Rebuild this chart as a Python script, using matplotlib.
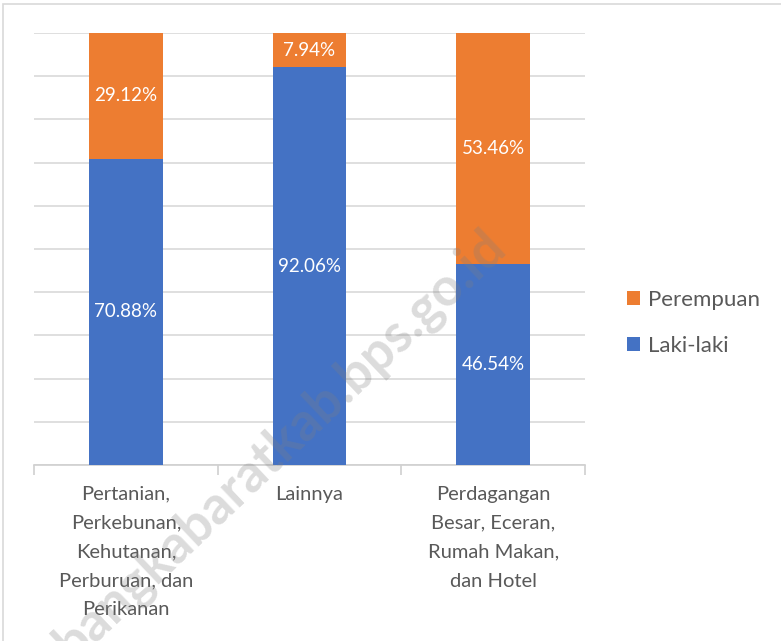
import matplotlib
matplotlib.use("Agg")
import matplotlib.pyplot as plt
from matplotlib.patches import Rectangle, Patch
import numpy as np

categories = ["Pertanian,\nPerkebunan,\nKehutanan,\nPerburuan, dan\nPerikanan",
              "Lainnya",
              "Perdagangan\nBesar, Eceran,\nRumah Makan,\ndan Hotel"]
laki = [70.88, 92.06, 46.54]
perempuan = [29.12, 7.94, 53.46]

BLUE = "#4472C4"
ORANGE = "#ED7D31"
GREY_TXT = "#595959"
FONT = "Lato"

W, H = 781, 641
fig = plt.figure(figsize=(W / 100, H / 100), dpi=100)

# outer frame of the chart object
fig.patches.append(Rectangle((3 / W, -0.1), 1.2, (H - 4) / H + 0.1, transform=fig.transFigure,
                             fill=False, edgecolor="#d9d9d9", linewidth=1.2))

ax = fig.add_axes([34 / W, (H - 465) / H, (585 - 34) / W, (465 - 33) / H])

x = np.arange(len(categories))
ax.bar(x, laki, width=0.4, color=BLUE, zorder=3)
ax.bar(x, perempuan, width=0.4, bottom=laki, color=ORANGE, zorder=3)

for i in range(len(categories)):
    ax.text(x[i], laki[i] / 2, f"{laki[i]:.2f}%", ha="center", va="center",
            color="white", fontsize=13.5, family=FONT, zorder=4)
    ax.text(x[i], laki[i] + perempuan[i] / 2, f"{perempuan[i]:.2f}%", ha="center", va="center",
            color="white", fontsize=13.5, family=FONT, zorder=4)

ax.set_xlim(-0.5, 2.5)
ax.set_ylim(0, 100)
ax.set_yticks(np.arange(0, 101, 10))
ax.yaxis.grid(True, color="#d9d9d9", linewidth=1.2, zorder=0)
ax.tick_params(axis="y", left=False, labelleft=False)
for s in ["top", "right", "left"]:
    ax.spines[s].set_visible(False)
ax.spines["bottom"].set_color("#d0d0d0")
ax.spines["bottom"].set_linewidth(1.2)

ax.set_xticks(x)
ax.set_xticklabels(categories, family=FONT, fontsize=14.5, color=GREY_TXT, linespacing=1.85)
ax.tick_params(axis="x", which="major", length=0, pad=15)
ax.set_xticks([-0.5, 0.5, 1.5, 2.5], minor=True)
ax.tick_params(axis="x", which="minor", length=7, color="#d0d0d0", width=1.2)

handles = [Patch(facecolor=ORANGE, label="Perempuan"), Patch(facecolor=BLUE, label="Laki-laki")]
leg = fig.legend(handles=handles, loc="center left", bbox_to_anchor=(607 / W, 1 - 323 / H),
                 frameon=False, prop={"family": FONT, "size": 16},
                 handlelength=0.6, handleheight=0.6, handletextpad=0.35, labelspacing=1.15)
for t in leg.get_texts():
    t.set_color(GREY_TXT)

# watermark
fig.text(280 / W, 1 - 445 / H, "bangkabaratkab.bps.go.id", rotation=43.5, ha="center", va="center",
         fontsize=38, family=FONT, fontweight="bold", color="#808080", alpha=0.28, zorder=10)

fig.savefig("out.png", dpi=100)
